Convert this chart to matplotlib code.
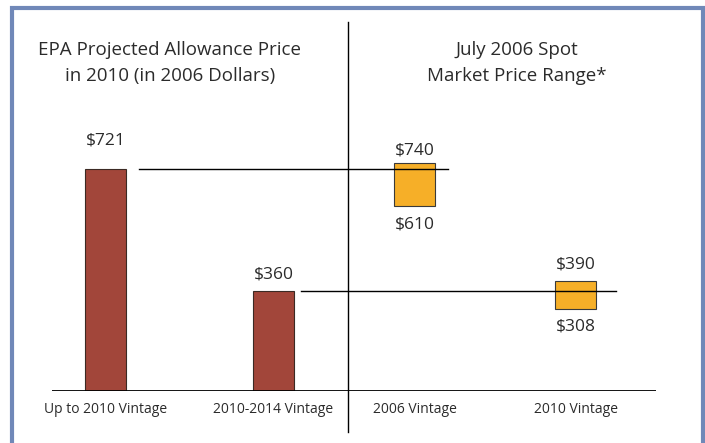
import matplotlib.pyplot as plt
from matplotlib.patches import Rectangle

# Values
epa_labels = ["Up to 2010 Vintage", "2010-2014 Vintage"]
epa_prices = [721, 360]
spot_labels = ["2006 Vintage", "2010 Vintage"]
spot_low = [610, 308]
spot_high = [740, 390]

# Layout (x in pixel-like units across the plot)
epa_x = [105.5, 273.5]
spot_x = [414.5, 575.5]
bar_w = 41
divider_x = 348

plt.rcParams["font.family"] = ["Open Sans", "DejaVu Sans"]
txt_color = "#2b2b2b"

fig = plt.figure(figsize=(7.05, 4.43), dpi=100)
ax = fig.add_axes([52 / 705, 52 / 443, 604 / 705, 369 / 443])
ax.set_xlim(52, 656)
ax.set_ylim(64, 1156)

# EPA projected bars
ax.bar(epa_x, epa_prices, width=bar_w, color="#A2463A",
       edgecolor="#3b2a24", linewidth=0.8, zorder=2)

# Spot market price ranges
heights = [h - l for h, l in zip(spot_high, spot_low)]
ax.bar(spot_x, heights, bottom=spot_low, width=bar_w, color="#F6AF28",
       edgecolor="#3a3a3a", linewidth=0.8, zorder=2)

# Reference lines from the EPA prices across to the spot ranges
ax.plot([epa_x[0] + 33.5, spot_x[0] + 33.5], [epa_prices[0]] * 2,
        color="black", lw=1.0, zorder=3)
ax.plot([epa_x[1] + 27.5, spot_x[1] + 40.5], [epa_prices[1]] * 2,
        color="black", lw=1.0, zorder=3)

# Value labels
lab_kw = dict(ha="center", fontsize=12.5, color=txt_color,
              textcoords="offset points")
ax.annotate(f"${epa_prices[0]}", (epa_x[0], epa_prices[0]),
            xytext=(0, 15), va="bottom", **lab_kw)
ax.annotate(f"${epa_prices[1]}", (epa_x[1], epa_prices[1]),
            xytext=(0, 6), va="bottom", **lab_kw)
for x, lo, hi in zip(spot_x, spot_low, spot_high):
    ax.annotate(f"${hi}", (x, hi), xytext=(0, 3 if hi > 700 else 6),
                va="bottom", **lab_kw)
    ax.annotate(f"${lo}", (x, lo), xytext=(0, -7), va="top", **lab_kw)

# Baseline and divider
ax.axhline(64, color="black", lw=1.3, zorder=3)
ax.axvline(divider_x, ymin=-41 / 369, ymax=1, color="black", lw=1.0,
           clip_on=False)

# Axes styling
for s in ax.spines.values():
    s.set_visible(False)
ax.set_yticks([])
ax.set_xticks(epa_x + spot_x)
ax.set_xticklabels(epa_labels + spot_labels, fontsize=10, color=txt_color)
ax.tick_params(axis="x", length=0, pad=8)

# Section titles
fig.text(170 / 705, 1 - 63 / 443,
         "EPA Projected Allowance Price\nin 2010 (in 2006 Dollars)",
         ha="center", va="center", fontsize=13.5, linespacing=1.55,
         color=txt_color)
fig.text(517 / 705, 1 - 63 / 443, "July 2006 Spot\nMarket Price Range*",
         ha="center", va="center", fontsize=13.5, linespacing=1.55,
         color=txt_color)

# Frame
fig.patches.append(Rectangle((12 / 705, -0.05), 691 / 705, 1.05 - 8 / 443,
                             transform=fig.transFigure, fill=False,
                             edgecolor="#7088B8", lw=3, zorder=10))

fig.savefig("out.png", dpi=100)
